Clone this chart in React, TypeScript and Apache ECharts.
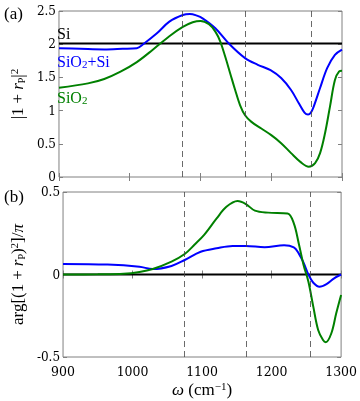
import React, { useEffect, useRef } from "react";
import * as echarts from "echarts";

const FONT = "Liberation Serif";
const TICK_FONT = "DejaVu Serif";

const omegaRange = [900, 1300];
const omegaStep = 100;
const absRange = [0, 2.5];
const absStep = 0.5;
const argRange = [-0.5, 0.5];
const argStep = 0.5;
const dashedOmegas = [1074, 1163, 1256];

// panel (a): |1 + r_P|^2
const siAbs: number[][] = [[900, 2.01], [1300, 2.01]];
const sio2SiAbs: number[][] = [
  [900, 1.94], [930, 1.93], [964, 1.92], [990, 1.93], [1010, 1.94], [1019, 2.0],
  [1038, 2.16], [1056, 2.34], [1075, 2.44], [1085, 2.455], [1095, 2.43], [1103, 2.39],
  [1121, 2.24], [1140, 2.01], [1163, 1.79], [1181, 1.69], [1199, 1.61], [1214, 1.49],
  [1228, 1.31], [1239, 1.11], [1247, 0.97], [1252, 0.94], [1256, 0.97], [1260, 1.06],
  [1269, 1.34], [1279, 1.64], [1290, 1.84], [1300, 1.92],
];
const sio2Abs: number[][] = [
  [900, 1.345], [941, 1.41], [964, 1.476], [987, 1.586], [1010, 1.73], [1033, 1.92],
  [1056, 2.12], [1075, 2.26], [1089, 2.33], [1100, 2.35], [1112, 2.3], [1121, 2.19],
  [1128, 2.04], [1135, 1.81], [1142, 1.56], [1149, 1.31], [1156, 1.08], [1163, 0.93],
  [1172, 0.83], [1186, 0.73], [1200, 0.63], [1214, 0.51], [1228, 0.36], [1242, 0.22],
  [1253, 0.155], [1262, 0.21], [1269, 0.36], [1276, 0.66], [1283, 1.06], [1290, 1.46],
  [1296, 1.59], [1300, 1.6],
];

// panel (b): arg[(1 + r_P)^2]/pi
const siArg: number[][] = [[900, 0], [1300, 0]];
const sio2SiArg: number[][] = [
  [900, 0.064], [964, 0.06], [1010, 0.047], [1029, 0.033], [1056, 0.052], [1075, 0.088],
  [1098, 0.138], [1121, 0.159], [1144, 0.173], [1163, 0.173], [1190, 0.165], [1218, 0.178],
  [1232, 0.165], [1239, 0.128], [1246, 0.072], [1253, 0.0], [1260, -0.05], [1269, -0.074],
  [1279, -0.058], [1290, -0.023], [1300, 0.0],
];
const sio2Arg: number[][] = [
  [900, 0.0], [950, 0.001], [987, 0.004], [1010, 0.015], [1029, 0.033], [1056, 0.078],
  [1075, 0.124], [1089, 0.18], [1103, 0.24], [1121, 0.34], [1135, 0.41], [1151, 0.445],
  [1163, 0.427], [1176, 0.387], [1195, 0.375], [1223, 0.37], [1232, 0.31], [1239, 0.19],
  [1246, 0.058], [1253, -0.044], [1260, -0.195], [1267, -0.336], [1274, -0.397],
  [1278, -0.41], [1286, -0.356], [1293, -0.235], [1300, -0.124],
];

const BLUE = "#0000ff";
const GREEN = "#008000";
const FRAME = "#808080";

const tickStyle = { show: true, inside: true, length: 4, lineStyle: { color: FRAME, width: 1 } };

function xAx(grid: number, position: string, labels: boolean, extra: any = {}) {
  return {
    type: "value", gridIndex: grid, position, min: omegaRange[0], max: omegaRange[1], interval: omegaStep,
    axisLine: { show: false }, axisTick: tickStyle, splitLine: { show: false },
    axisLabel: {
      show: labels, fontFamily: TICK_FONT, fontSize: 12.5, color: "#000", margin: 8,
      formatter: (v: number) => String(v),
    },
    ...extra,
  };
}
function yAx(grid: number, position: string, labels: boolean, range: number[], step: number, extra: any = {}) {
  return {
    type: "value", gridIndex: grid, position, min: range[0], max: range[1], interval: step,
    axisLine: { show: false }, axisTick: tickStyle, splitLine: { show: false },
    axisLabel: {
      show: labels, fontFamily: TICK_FONT, fontSize: 12, color: "#000", margin: 3,
      formatter: (v: number) => String(v),
    },
    ...extra,
  };
}

const richBase = {
  i: { fontFamily: FONT, fontStyle: "italic", fontSize: 17, color: "#000" },
  n: { fontFamily: FONT, fontSize: 17, color: "#000" },
  sub: { fontFamily: FONT, fontSize: 10, color: "#000", padding: [7, 0, 0, 0] },
  sup: { fontFamily: FONT, fontSize: 11, color: "#000", padding: [0, 0, 8, 0] },
  op: { fontFamily: FONT, fontSize: 17, color: "#000", padding: [0, 4, 0, 4] },
};

function line(name: string, data: number[][], color: string, grid: number, extra: any = {}) {
  return {
    type: "line", name, data, xAxisIndex: grid * 2, yAxisIndex: grid * 2, showSymbol: false,
    smooth: 0.35, lineStyle: { color, width: 2 }, itemStyle: { color }, silent: true, ...extra,
  };
}

function dashed() {
  return {
    silent: true, symbol: "none", label: { show: false },
    lineStyle: { color: "#444", width: 0.8, type: [6, 4] },
    data: dashedOmegas.map((v) => ({ xAxis: v })),
  };
}

export default function App() {
  const ref = useRef<HTMLDivElement>(null);
  useEffect(() => {
    if (!ref.current) return;
    const chart = echarts.init(ref.current, undefined, { renderer: "svg" });
    const option: any = {
      animation: false,
      grid: [
        { left: 54, top: 11, width: 288, height: 166, show: true, borderColor: FRAME, borderWidth: 1, backgroundColor: "transparent" },
        { left: 54, top: 192, width: 288, height: 165, show: true, borderColor: FRAME, borderWidth: 1, backgroundColor: "transparent" },
      ],
      xAxis: [
        xAx(0, "bottom", false),
        xAx(0, "top", false),
        xAx(1, "bottom", true, {
          name: "{i|ω} {n|(cm}{sup|−1}{n|)}",
          nameLocation: "middle",
          nameGap: 23,
          nameTextStyle: { fontFamily: FONT, fontSize: 17, color: "#000", rich: richBase },
        }),
        xAx(1, "top", false),
      ],
      yAxis: [
        yAx(0, "left", true, absRange, absStep, {
          name: "{n||1}{op|+}{i|r}{sub|P}{n||}{sup|2}",
          nameLocation: "middle",
          nameRotate: 90,
          nameGap: 29,
          nameTextStyle: { fontFamily: FONT, fontSize: 17, color: "#000", rich: richBase },
        }),
        yAx(0, "right", false, absRange, absStep),
        yAx(1, "left", true, argRange, argStep, {
          name: "{n|arg[(1}{op|+}{i|r}{sub|P}{n|)}{sup|2}{n|]/}{i|π}",
          nameLocation: "middle",
          nameRotate: 90,
          nameGap: 30,
          nameTextStyle: { fontFamily: FONT, fontSize: 17, color: "#000", rich: richBase },
        }),
        yAx(1, "right", false, argRange, argStep),
      ],
      series: [
        line("Si", siAbs, "#000", 0, { markLine: dashed(), z: 2 }),
        line("SiO2+Si", sio2SiAbs, BLUE, 0, { z: 3 }),
        line("SiO2", sio2Abs, GREEN, 0, { z: 4 }),
        line("Si", siArg, "#000", 1, { markLine: dashed(), z: 2 }),
        line("SiO2+Si", sio2SiArg, BLUE, 1, { z: 3 }),
        line("SiO2", sio2Arg, GREEN, 1, { z: 4 }),
      ],
      graphic: [
        { type: "text", x: 4, y: 13, style: { text: "(a)", fontFamily: FONT, fontSize: 17, fill: "#000", textVerticalAlign: "middle" } },
        { type: "text", x: 4, y: 196, style: { text: "(b)", fontFamily: FONT, fontSize: 17, fill: "#000", textVerticalAlign: "middle" } },
        { type: "text", x: 57, y: 33, style: { text: "Si", fontFamily: FONT, fontSize: 16, fill: "#000", textVerticalAlign: "middle" } },
        {
          type: "text", x: 57, y: 61,
          style: {
            text: "SiO{s|2}+Si", fontFamily: FONT, fontSize: 16, fill: BLUE, textVerticalAlign: "middle",
            rich: { s: { fontFamily: FONT, fontSize: 11, fill: BLUE, padding: [6, 0, 0, 0] } },
          },
        },
        {
          type: "text", x: 57, y: 97,
          style: {
            text: "SiO{s|2}", fontFamily: FONT, fontSize: 16, fill: GREEN, textVerticalAlign: "middle",
            rich: { s: { fontFamily: FONT, fontSize: 11, fill: GREEN, padding: [6, 0, 0, 0] } },
          },
        },
      ],
    };
    chart.setOption(option);
    return () => chart.dispose();
  }, []);
  return <div ref={ref} style={{ position: "fixed", left: 0, top: 0, width: 360, height: 401 }} />;
}
